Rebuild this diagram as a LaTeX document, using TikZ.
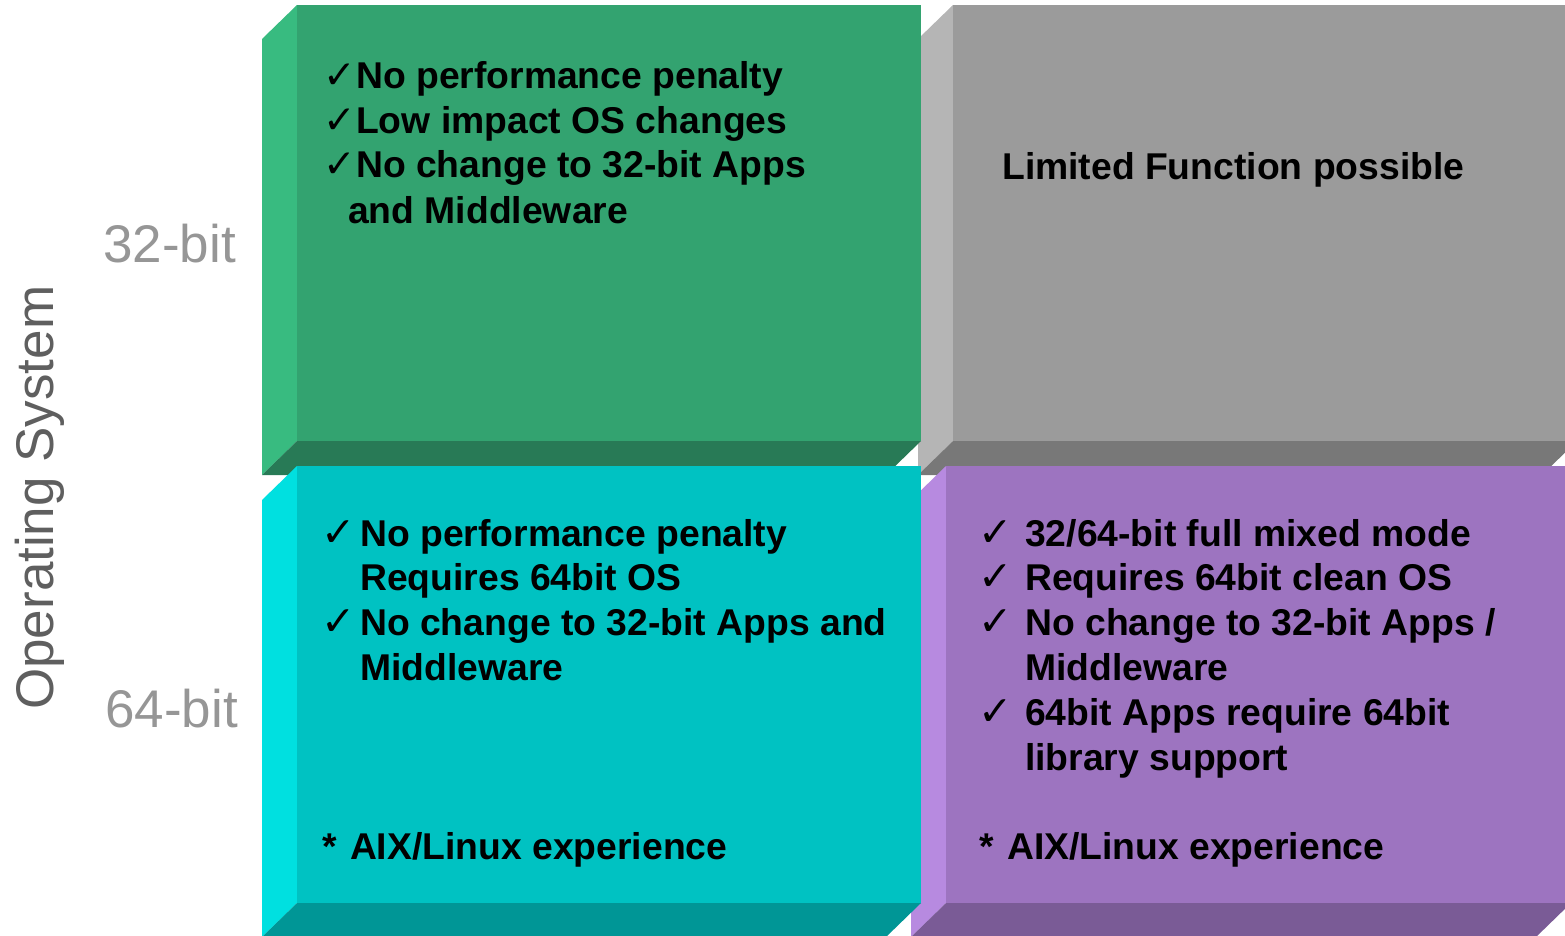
\documentclass[tikz,border=0pt]{standalone}
\usepackage{fontspec}
\setmainfont{Liberation Sans}
\newfontfamily\chkfont{DejaVu Sans}
\definecolor{grnF}{RGB}{51,163,112}
\definecolor{grnS}{RGB}{56,187,128}
\definecolor{grnB}{RGB}{40,122,86}
\definecolor{gryF}{RGB}{155,155,155}
\definecolor{gryS}{RGB}{181,181,181}
\definecolor{gryB}{RGB}{120,120,120}
\definecolor{cynF}{RGB}{0,194,194}
\definecolor{cynS}{RGB}{0,224,224}
\definecolor{cynB}{RGB}{0,150,150}
\definecolor{prpF}{RGB}{157,116,192}
\definecolor{prpS}{RGB}{183,138,224}
\definecolor{prpB}{RGB}{122,91,150}
\definecolor{axisgray}{RGB}{150,150,150}
\definecolor{titlegray}{RGB}{95,95,95}
% extruded slab: front face (#1,#2)-(#3,#4), depth offset to lower left
\newcommand\drawslab[7]{%
  \fill[#6] (#1,#2) -- (#1-35,#2+34) -- (#1-35,#4+34) -- (#1,#4) -- cycle;
  \fill[#7] (#1,#4) -- (#3,#4) -- (#3-35,#4+34) -- (#1-35,#4+34) -- cycle;
  \fill[#5] (#1,#2) rectangle (#3,#4);
}
\tikzset{
  body/.style={anchor=base west, inner sep=0pt, font=\fontsize{37.3}{44}\selectfont\bfseries},
  tick/.style={anchor=base west, inner sep=0pt, font=\fontsize{41}{44}\selectfont\chkfont},
  boldtick/.style={tick, font=\fontsize{39}{44}\selectfont\chkfont\bfseries},
  axislabel/.style={anchor=base west, inner sep=0pt, text=axisgray, font=\fontsize{53}{60}\selectfont},
}
\begin{document}
\begin{tikzpicture}[x=1pt,y=-1pt]
\useasboundingbox (0,0) rectangle (1565,936);
% right column first, left column overlaps it
\drawslab{953}{5}{1577}{441}{gryF}{gryS}{gryB}
\drawslab{946}{466}{1571}{903}{prpF}{prpS}{prpB}
\drawslab{297}{5}{921}{441}{grnF}{grnS}{grnB}
\drawslab{297}{466}{921}{903}{cynF}{cynS}{cynB}

% axis labels
\node[axislabel] (l32) at (103,262) {32-bit};
\node[axislabel] (l64) at (105,727) {64-bit};
\node[anchor=base west, inner sep=0pt, rotate=90, text=titlegray,
      font=\fontsize{53}{60}\selectfont] (os) at (53,710) {Operating System};

% 32-bit OS, 32-bit apps
\node[boldtick] (g1c) at (323,89) {✓};
\node[body] (g1) at (356,89) {No performance penalty};
\node[boldtick] (g2c) at (323,134) {✓};
\node[body] (g2) at (356,134) {Low impact OS changes};
\node[boldtick] (g3c) at (323,178) {✓};
\node[body] (g3) at (356,178) {No change to 32-bit Apps};
\node[body] (g4) at (348,223) {and Middleware};

% 32-bit OS, 64-bit apps
\node[body] (r1) at (1002,180) {Limited Function possible};

% 64-bit OS, 32-bit apps
\node[tick] (c1c) at (321,546) {✓};
\node[body] (c1) at (360,546) {No performance penalty};
\node[body] (c2) at (360,590) {Requires 64bit OS};
\node[tick] (c3c) at (321,635) {✓};
\node[body] (c3) at (360,635) {No change to 32-bit Apps and};
\node[body] (c4) at (360,680) {Middleware};
\node[body] (c5) at (322,859) {*\hspace{3pt} AIX/Linux experience};

% 64-bit OS, 64-bit apps
\node[tick] (p1c) at (978,546) {✓};
\node[body] (p1) at (1025,546) {32/64-bit full mixed mode};
\node[tick] (p2c) at (978,590) {✓};
\node[body] (p2) at (1025,590) {Requires 64bit clean OS};
\node[tick] (p3c) at (978,635) {✓};
\node[body] (p3) at (1025,635) {No change to 32-bit Apps /};
\node[body] (p4) at (1025,680) {Middleware};
\node[tick] (p5c) at (978,725) {✓};
\node[body] (p5) at (1025,725) {64bit Apps require 64bit};
\node[body] (p6) at (1025,770) {library support};
\node[body] (p7) at (979,859) {*\hspace{3pt} AIX/Linux experience};
\end{tikzpicture}
\end{document}
